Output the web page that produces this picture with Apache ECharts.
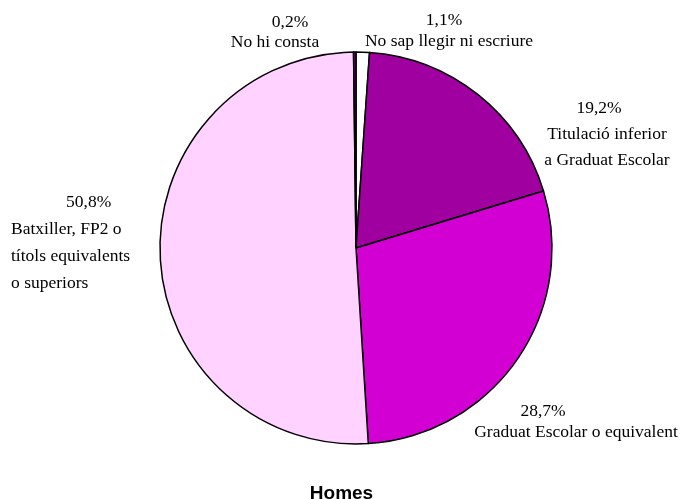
<!DOCTYPE html>
<html>
<head>
<meta charset="utf-8">
<script src="https://cdn.jsdelivr.net/npm/echarts@6/dist/echarts.min.js"></script>
<style>
  html, body { margin: 0; padding: 0; background: #fff; }
  #chart { width: 683px; height: 499px; }
</style>
</head>
<body>
<div id="chart"></div>
<script>
// categories, clockwise from 12 o'clock
var categories = [
  'No sap llegir ni escriure',
  'Titulació inferior\na Graduat Escolar',
  'Graduat Escolar o equivalent',
  'Batxiller, FP2 o\ntítols equivalents\no superiors',
  'No hi consta'
]
var values = [1.1, 19.2, 28.7, 50.8, 0.2]
var colors = ['#FFFFFF', '#A000A0', '#D200D2', '#FFD2FF', '#800080']

// label anchors (top of text block), alignment, line height, percent-line shift
var labelPos = [
  { x: 449, y: 10, align: 'center', lh: 21, dx: -5 },
  { x: 607, y: 95, align: 'center', lh: 26, dx: -8 },
  { x: 576, y: 401, align: 'center', lh: 21, dx: -33 },
  { x: 11, y: 189, align: 'left', lh: 27, dx: 55 },
  { x: 275, y: 12, align: 'center', lh: 20, dx: 15 }
]

var FS = 17.5

var chart = echarts.init(document.getElementById('chart'))

var seriesData = categories.map(function (name, i) {
  var p = labelPos[i]
  var pctStyle = { fontFamily: 'Liberation Serif', fontSize: FS, color: '#000', lineHeight: p.lh }
  if (p.align === 'left') {
    pctStyle.padding = [0, 0, 0, p.dx]
  } else if (p.dx > 0) {
    pctStyle.padding = [0, 0, 0, p.dx * 2]
  } else {
    pctStyle.padding = [0, -p.dx * 2, 0, 0]
  }
  return {
    name: name,
    value: values[i],
    itemStyle: { color: colors[i] },
    label: {
      align: p.align,
      rich: {
        p: pctStyle,
        n: { fontFamily: 'Liberation Serif', fontSize: FS, color: '#000', lineHeight: p.lh, align: p.align }
      }
    }
  }
})

chart.setOption({
  animation: false,
  title: {
    text: 'Homes',
    left: 'center',
    top: 479,
    textStyle: { fontFamily: 'Liberation Sans', fontWeight: 'bold', fontSize: 19, color: '#000' }
  },
  series: [
    {
      type: 'pie',
      center: [356, 248],
      radius: 196,
      startAngle: 90,
      clockwise: true,
      itemStyle: { borderColor: '#000', borderWidth: 1.5 },
      label: {
        show: true,
        position: 'outside',
        overflow: 'none',
        width: 400,
        formatter: function (p) {
          var pct = p.value.toFixed(1).replace('.', ',') + '%'
          var lines = p.name.split('\n').map(function (l) { return '{n|' + l + '}' })
          return '{p|' + pct + '}\n' + lines.join('\n')
        }
      },
      labelLine: { show: false },
      labelLayout: function (params) {
        var p = labelPos[params.dataIndex]
        return { x: p.x, y: p.y, align: p.align, verticalAlign: 'top' }
      },
      emphasis: { disabled: true },
      data: seriesData
    }
  ]
})
</script>
</body>
</html>
